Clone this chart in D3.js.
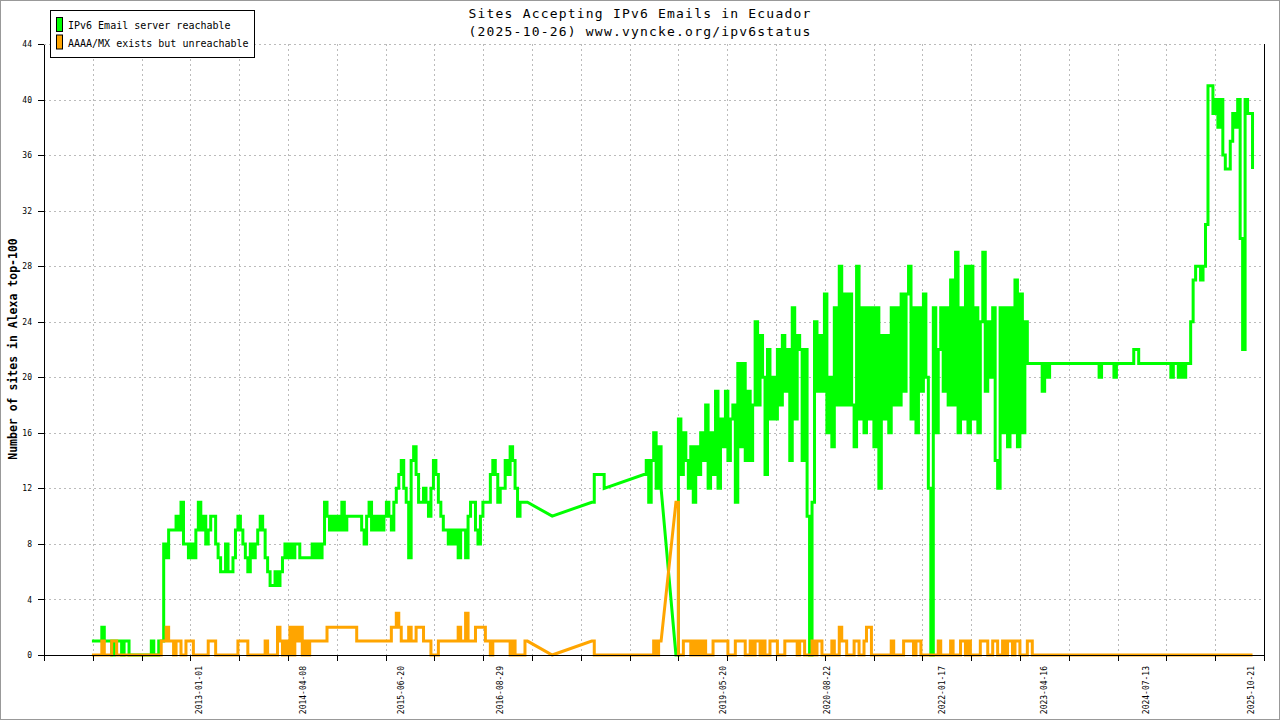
<!DOCTYPE html>
<html>
<head>
<meta charset="utf-8">
<script src="https://cdn.jsdelivr.net/npm/d3@7/dist/d3.min.js"></script>
<style>
  html, body { margin: 0; padding: 0; background: #fff; }
  svg { display: block; }
  text { font-family: 'DejaVu Sans Mono', monospace; fill: #000; }
</style>
</head>
<body>
<div id="chart"></div>
<script>
'use strict';

// samples every 11 days starting 2011-09-13, null = no measurement that day
const firstDay = '2011-09-13';
const stepDays = 11;

const reachable = [
  1,1,1,1,2,1,1,1,0,1, 1,1,0,1,1,0,0,0,0,0, 0,0,0,0,1,0,0,1,1,
  8,7,9,9,9,10,9,11,8,8, 7,8,7,9,11,9,10,8,9,10, 10,8,7,6,6,8,6,6,7,9,
  10,9,8,7,6,8,7,8,9,10, 9,7,6,5,5,6,5,6,7,8, 7,8,7,8,8,7,7,7,7,7,
  8,7,8,7,8,11,10,9,
  10,9,10,9,11,9,10,10,10,10, 10,10,9,8,10,11,9,10,9,10,
  9,10,11,10,9,11,12,13,14,12, 11,7,14,15,13,11,11,12,11,10,
  12,14,13,11,10,9,9,8,9,8, 9,7,9,9,7,10,11,11,9,8,
  10,11,11,11,13,14,13,11,12,12, 14,13,15,14,12,10,11,11,11,11,
  null,null,null,null,null,null,null,null,null,
  10,
  null,null,null,null,null,null,null,null,null,null,null,null,null,null,null,
  11, 13,13,13,13, 12,
  null,null,null,null,null,null,null,null,null,null,null,null,null,null,null,
  13,14,11,14,16,12,15,12,
  null,null,null,null,null,
  0,
  17,13,16,14,12,15,11,15,13,16, 14,18,12,16,13,19,12,17,15,19,
  14,17,18,11,21,15,21,14,19,14, 18,24,18,23,20,13,22,17,20,17,
  22,18,23,19,22,14,25,17,23,22, 14,22,10,0,11,24,19,23,19,26,
  16,20,15,25,18,28,18,26,18,26, 18,15,28,17,25,16,25,17,25,15,
  25,12,23,17,23,16,25,18,25,18, 26,19,26,28,17,25,16,25,19,26,
  20,12,0,25,16,22,25,19,25,18, 27,18,29,16,25,17,28,16,28,17,
  25,16,24,29,19,24,20,25,14,12, 25,16,25,15,25,16,27,15,26,16,
  24,21,
  21,21,21,21,21,19,21,20,21,21, 21,21,21,21,21,21,21,21,21,21,
  21,21,21,21,21,21,21,21,20,21, 21,21,21,21,20,21,21,21,21,21,
  21,21,22,22,21,21,21,21,21,21, 21,21,21,21,21,21,21,20,21,21,
  20,21,20,21,21,
  24,27,28,28,27,28,31,41,41,39, 40,38,40,36,35,35,37,39,38,40,
  30,22,40,39,39,35
];

const unreachable = [
  0,0,0,0,1,0,0,0,1,1, 0,0,0,0,0,0,0,0,0,0, 0,0,0,0,0,0,0,0,
  1,1,2,1,1,0,1,1,0,0, 1,1,1,0,0,0,0,0,0,1, 1,1,0,0,0,0,0,0,0,0,
  0,1,1,1,1,0,0,0,0,0, 0,0,1,0,0,0,0,2,1,0, 1,0,2,0,2,1,2,0,1,0,
  1,1,1,1,1,1,1,2,2,
  2,2,2,2,2,2,2,2,2,2,
  1,1,1,1,1,1,1,1,1,1,1,1,1,1,
  2,2,3,2,1,1,1,2,1,1, 2,2,2,1,1,1,0,0,0,
  1,1,1,1,1,1,1,1, 2,1,1,3,1,1,1,2,2,2,2,1,1,0,
  1,1,1,1,1,1,1, 0,1,0,0,0,0,1,1,
  null,null,null,null,null,null,null,null,null,
  0,
  null,null,null,null,null,null,null,null,null,null,null,null,null,null,null,
  1, 0,0,0,0,0,
  null,null,null,null,null,null,null,null,null,null,null,null,null,null,null,
  0,0,0,0,1,0,1,1,
  null,null,null,null,null,
  11,
  0,0,1,1,1,0,1,0,1,0, 1,0,0,0,1,1,1,1,1,1,
  0,0,0,1,1,1,1,0,0,1, 0,1,1,0,1,0,0,1,1,1,
  0,0,0,1,1,1,1,1,0,1, 1,0,0,0,1,0,1,1,0,0,
  0,0,1,0,0,2,1,1,0,0, 0,1,1,0,0,1,2,2,0,0,
  0,0,0,0,0,0,1,0,0,0, 0,1,1,1,1,0,1,1,0,0,
  0,0,0,0,0,1,0,0,0,0, 1,0,0,0,1,1,0,1,0,0,
  0,0,1,1,1,0,0,1,1,0, 0,1,0,1,1,0,1,1,0,0,
  0,1,
  1,0,0,0,0,0,0,0,0,0, 0,0,0,0,0,0,0,0,0,0,
  0,0,0,0,0,0,0,0,0,0, 0,0,0,0,0,0,0,0,0,0,
  0,0,0,0,0,0,0,0,0,0, 0,0,0,0,0,0,0,0,0,0,
  0,0,0,0,0,0,0,0,0,0, 0,0,0,0,0,0,0,0,0,0,
  0,0,0,0,0,0,0,0,0,0, 0
];

const seriesNames = ['IPv6 Email server reachable', 'AAAA/MX exists but unreachable'];
const seriesColors = ['#00ff00', '#ffa500'];
const yTicks = [0, 4, 8, 12, 16, 20, 24, 28, 32, 36, 40, 44];
const xLabels = ['2013-01-01', '2014-04-08', '2015-06-20', '2016-08-29', '2019-05-20',
                 '2020-08-22', '2022-01-17', '2023-04-16', '2024-07-13', '2025-10-21'];
const xRange = ['2011-02-12', '2025-12-18'];
const xDivisions = 25;
const titleLines = ['Sites Accepting IPv6 Emails in Ecuador', '(2025-10-26) www.vyncke.org/ipv6status'];
const yTitle = 'Number of sites in Alexa top-100';

const width = 1280;
const height = 720;
const plotL = 44, plotR = 1264, plotT = 44, plotB = 655;

const parse = d3.timeParse('%Y-%m-%d');
const x = d3.scaleTime().domain(xRange.map(parse)).range([plotL, plotR]);
const y = d3.scaleLinear().domain([0, 44]).range([plotB, plotT]);

const svg = d3.select('#chart').append('svg')
    .attr('width', width)
    .attr('height', height);

svg.append('rect')
    .attr('x', 0.5).attr('y', 0.5)
    .attr('width', width - 1).attr('height', height - 1)
    .attr('fill', '#fff').attr('stroke', '#999');

// grid
const t0 = x.domain()[0].getTime(), t1 = x.domain()[1].getTime();
const divDates = d3.range(xDivisions + 1).map(k => new Date(t0 + k * (t1 - t0) / xDivisions));

let grid = svg.append('g')
    .attr('stroke', '#bbb')
    .attr('stroke-dasharray', '2,3')
    .attr('shape-rendering', 'crispEdges');
grid.selectAll('line.h')
    .data(yTicks.filter(v => v > 0))
    .enter().append('line')
    .attr('x1', plotL).attr('x2', plotR)
    .attr('y1', d => Math.round(y(d)) + 0.5)
    .attr('y2', d => Math.round(y(d)) + 0.5);
grid.selectAll('line.v')
    .data(divDates.slice(1, -1))
    .enter().append('line')
    .attr('x1', d => Math.round(x(d)) + 0.5)
    .attr('x2', d => Math.round(x(d)) + 0.5)
    .attr('y1', plotT).attr('y2', plotB);

// series: consecutive samples are joined as steps, gaps in the data as straight lines
const points = vals => {
    let pts = vals
        .map((v, i) => ({i: i, date: d3.timeDay.offset(parse(firstDay), i * stepDays), v: v}))
        .filter(d => d.v !== null);
    let out = [];
    pts.forEach((p, k) => {
        let prev = pts[k - 1];
        if (prev && p.i === prev.i + 1 && p.v !== prev.v) {
            out.push({date: p.date, v: prev.v});
        }
        out.push(p);
    });
    return out;
};
const line = d3.line()
    .x(d => x(d.date))
    .y(d => y(d.v));

[reachable, unreachable].forEach((vals, k) => {
    svg.append('path')
        .datum(points(vals))
        .attr('d', line)
        .attr('fill', 'none')
        .attr('stroke', seriesColors[k])
        .attr('stroke-width', 3)
        .attr('stroke-linejoin', 'miter');
});

// axes
const yAxis = svg.append('g')
    .attr('transform', `translate(${plotL},0)`)
    .call(d3.axisLeft(y).tickValues(yTicks).tickSize(6).tickSizeOuter(0).tickPadding(6));
yAxis.selectAll('text').style('font-size', '8px');

const xAxis = svg.append('g')
    .attr('transform', `translate(0,${plotB})`)
    .call(d3.axisBottom(x).tickValues(divDates).tickFormat('').tickSize(6).tickSizeOuter(0));

svg.selectAll('.domain, .tick line')
    .attr('stroke', '#000')
    .attr('shape-rendering', 'crispEdges');

svg.append('line')
    .attr('x1', plotR + 0.5).attr('x2', plotR + 0.5)
    .attr('y1', plotT).attr('y2', plotB)
    .attr('stroke', '#000')
    .attr('shape-rendering', 'crispEdges');

svg.append('g')
    .selectAll('text')
    .data(xLabels)
    .enter().append('text')
    .attr('transform', d => `translate(${x(parse(d)) + 3},666) rotate(-90)`)
    .attr('text-anchor', 'end')
    .style('font-size', '8px')
    .text(d => d);

// titles
svg.append('g')
    .selectAll('text')
    .data(titleLines)
    .enter().append('text')
    .attr('x', width / 2)
    .attr('y', (d, i) => 18 + i * 18)
    .attr('text-anchor', 'middle')
    .style('font-size', '13px')
    .style('letter-spacing', '1.2px')
    .text(d => d);

svg.append('text')
    .attr('transform', 'translate(17,349) rotate(-90)')
    .attr('text-anchor', 'middle')
    .style('font-size', '11.5px')
    .style('font-weight', 'bold')
    .text(yTitle);

// legend
const legend = svg.append('g');
legend.append('rect')
    .attr('x', 50.5).attr('y', 10.5)
    .attr('width', 204).attr('height', 47)
    .attr('fill', '#fff').attr('stroke', '#000');
const item = legend.selectAll('g.item')
    .data(seriesNames)
    .enter().append('g')
    .attr('transform', (d, i) => `translate(0,${i * 17.5})`);
item.append('rect')
    .attr('x', 56.5).attr('y', 17.5)
    .attr('width', 6).attr('height', 14)
    .attr('fill', (d, i) => seriesColors[i])
    .attr('stroke', '#000');
item.append('text')
    .attr('x', 68).attr('y', 29)
    .style('font-size', '10px')
    .text(d => d);
</script>
</body>
</html>
